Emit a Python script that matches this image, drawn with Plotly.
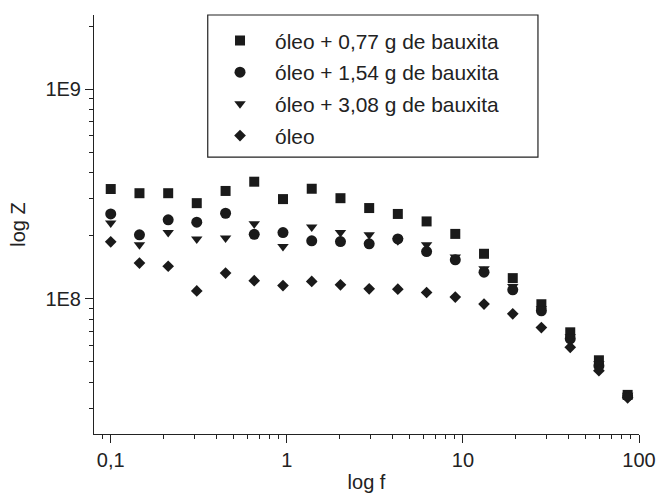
import plotly.graph_objects as go

freq = [0.1, 0.1456, 0.212, 0.308, 0.449, 0.653, 0.951, 1.385, 2.017, 2.936,
        4.27, 6.22, 9.05, 13.18, 19.19, 27.9, 40.7, 59.2, 86.2]

z_077 = [3.34e8, 3.19e8, 3.19e8, 2.86e8, 3.27e8, 3.62e8, 2.99e8, 3.35e8, 3.02e8, 2.71e8,
         2.54e8, 2.34e8, 2.04e8, 1.64e8, 1.255e8, 9.42e7, 6.92e7, 5.09e7, 3.48e7]
z_154 = [2.54e8, 2.02e8, 2.38e8, 2.32e8, 2.56e8, 2.03e8, 2.07e8, 1.89e8, 1.876e8, 1.83e8,
         1.93e8, 1.68e8, 1.535e8, 1.34e8, 1.104e8, 8.77e7, 6.44e7, 4.79e7, 3.44e7]
z_308 = [2.30e8, 1.81e8, 2.07e8, 1.93e8, 1.95e8, 2.28e8, 1.775e8, 2.20e8, 2.07e8, 2.02e8,
         1.89e8, 1.81e8, 1.585e8, 1.39e8, 1.145e8, 8.96e7, 6.59e7, 4.90e7, 3.47e7]
z_oleo = [1.87e8, 1.48e8, 1.43e8, 1.09e8, 1.327e8, 1.22e8, 1.157e8, 1.21e8, 1.166e8, 1.116e8,
          1.112e8, 1.072e8, 1.019e8, 9.44e7, 8.48e7, 7.29e7, 5.87e7, 4.54e7, 3.37e7]

names = ["óleo + 0,77 g de bauxita", "óleo + 1,54 g de bauxita",
         "óleo + 3,08 g de bauxita", "óleo"]
symbols = ["square", "circle", "triangle-down", "diamond"]
sizes = [10, 11, 10, 9]

x_tickvals = [0.1, 1, 10, 100]
x_ticktext = ["0,1", "1", "10", "100"]
y_tickvals = [1e8, 1e9]
y_ticktext = ["1E8", "1E9"]

x_minor = [0.09] + [k * 0.1 for k in range(2, 10)] + [k * 1.0 for k in range(2, 10)] + [k * 10.0 for k in range(2, 10)]
y_minor = [k * 1e7 for k in range(3, 10)] + [k * 1e8 for k in range(2, 10)] + [2e9]

FONT = "Liberation Sans, Arial, sans-serif"
INK = "#222222"

fig = go.Figure()
for i, (name, ys, sym, sz) in enumerate(zip(names, [z_077, z_154, z_308, z_oleo], symbols, sizes)):
    fig.add_trace(go.Scatter(x=freq, y=ys, mode="markers", name=name,
                             legendgroup=f"g{i}",
                             marker=dict(symbol=sym, size=sz, color="#1a1a1a",
                                         line=dict(width=0))))

axis_common = dict(type="log", showgrid=False, zeroline=False, showline=True,
                   linecolor=INK, linewidth=1, ticks="outside", tickcolor=INK,
                   tickwidth=1, ticklen=8, mirror=False, automargin=False,
                   tickfont=dict(family=FONT, size=20, color=INK),
                   title_font=dict(family=FONT, size=20, color=INK))

fig.update_xaxes(range=[-1.095, 2.0], tickmode="array", tickvals=x_tickvals,
                 ticktext=x_ticktext, title_text="log f", title_standoff=4,
                 minor=dict(tickmode="array", tickvals=x_minor, ticks="outside",
                            ticklen=4, tickcolor=INK),
                 **axis_common)
fig.update_yaxes(range=[7.355, 9.354], tickmode="array", tickvals=y_tickvals,
                 ticktext=y_ticktext, title_text="log Z", title_standoff=14,
                 minor=dict(tickmode="array", tickvals=y_minor, ticks="outside",
                            ticklen=4, tickcolor=INK),
                 **axis_common)

fig.add_shape(type="rect", xref="paper", yref="paper", x0=0.2087, x1=0.8146,
              y0=0.661, y1=1.0, line=dict(color=INK, width=1.2), fillcolor="rgba(0,0,0,0)")

fig.update_layout(
    width=661, height=501,
    margin=dict(l=94, r=22, t=15, b=67),
    paper_bgcolor="white", plot_bgcolor="white",
    font=dict(family=FONT, size=20, color=INK),
    showlegend=True,
    legend=dict(x=0.2037, y=0.987, xanchor="left", yanchor="top",
                bgcolor="rgba(0,0,0,0)", borderwidth=0,
                font=dict(family=FONT, size=20.9, color=INK),
                itemwidth=60, tracegroupgap=1.5),
)

fig.write_html("out.html", config={"displayModeBar": False},
               post_script="document.body.style.margin='0px';")
